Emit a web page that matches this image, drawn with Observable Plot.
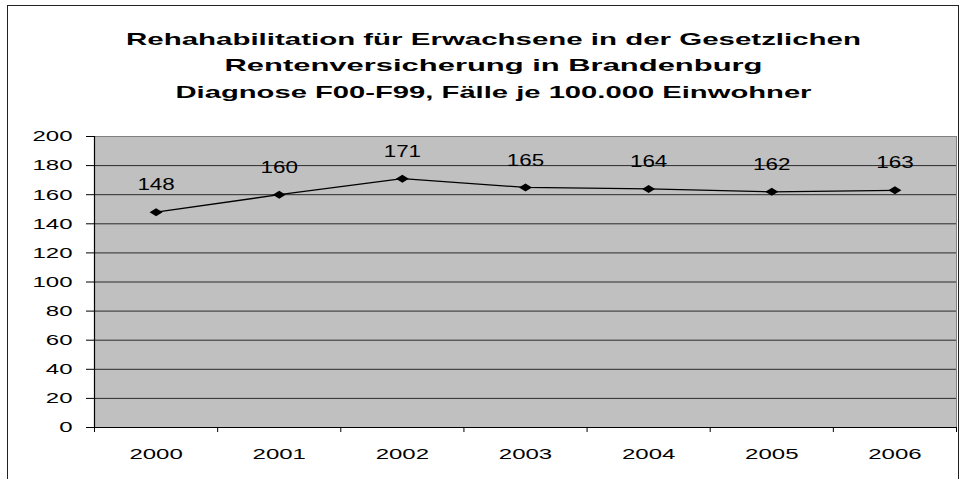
<!DOCTYPE html>
<html>
<head>
<meta charset="utf-8">
<script src="https://cdn.jsdelivr.net/npm/d3@7"></script>
<script src="https://cdn.jsdelivr.net/npm/@observablehq/plot@0.6"></script>
<style>
  html, body { margin: 0; padding: 0; background: #fff; }
  #wrap { position: relative; width: 964px; height: 479px; overflow: hidden; }
  #border { position: absolute; left: 7px; top: 5px; width: 952px; height: 520px;
            border: 1.5px solid #222; box-sizing: border-box; z-index: 0; }
  #chart { position: absolute; left: 0; top: 0; z-index: 1; }
</style>
</head>
<body>
<div id="wrap"><div id="border"></div><div id="chart"></div></div>
<script>
// ---- data ----
const titleLines = [
  "Rehahabilitation für Erwachsene in der Gesetzlichen",
  "Rentenversicherung in Brandenburg",
  "Diagnose F00-F99, Fälle je 100.000 Einwohner"
];
const years  = [2000, 2001, 2002, 2003, 2004, 2005, 2006];
const values = [148, 160, 171, 165, 164, 162, 163];
const yTicks = [0, 20, 40, 60, 80, 100, 120, 140, 160, 180, 200];

const data = years.map((year, i) => ({year, value: values[i]}));
const bounds = years.map(y => y - 0.5).concat([years[years.length - 1] + 0.5]);

const diamond = {
  draw(ctx) {
    ctx.moveTo(-6.5, 0); ctx.lineTo(0, -4); ctx.lineTo(6.5, 0); ctx.lineTo(0, 4); ctx.closePath();
  }
};

const titleCenters = [32, 58.5, 85];
const titleWidths = [735, 538, 636];

const svg = Plot.plot({
  width: 964,
  height: 479,
  marginLeft: 94,
  marginRight: 8,
  marginTop: 136,
  marginBottom: 52,
  style: {background: "transparent", fontFamily: "'Liberation Sans', Arial, sans-serif", fontSize: "15px", color: "#000"},
  x: {type: "linear", domain: [bounds[0], bounds[bounds.length - 1]], label: null},
  y: {domain: [0, 200], label: null},
  marks: [
    Plot.frame({fill: "#c0c0c0", stroke: "#808080"}),
    Plot.ruleY(yTicks.filter(v => v > 0 && v < 200), {stroke: "#2b2b2b", strokeWidth: 1}),
    Plot.ruleY([0], {stroke: "#000", strokeWidth: 1.2}),
    Plot.ruleX([bounds[0]], {stroke: "#000", strokeWidth: 1.2}),
    Plot.axisY({ticks: yTicks, tickSize: 8, tickPadding: 14, tickFormat: d => String(d), stroke: "#000", fill: "#000", label: null}),
    Plot.axisX({ticks: bounds, tickSize: 5, tickFormat: () => "", stroke: "#000", label: null}),
    Plot.axisX({ticks: years, tickSize: 0, tickPadding: 21, tickFormat: d => String(d), fill: "#000", label: null}),
    Plot.line(data, {x: "year", y: "value", stroke: "#000", strokeWidth: 1.3}),
    Plot.dot(data, {x: "year", y: "value", symbol: diamond, fill: "#000", stroke: "none"}),
    Plot.text(data, {x: "year", y: "value", text: d => String(d.value), dy: -27, fontSize: 16, fill: "#000"}),
    ...titleLines.map((t, i) => Plot.text([t], {
      frameAnchor: "top", text: d => d, dx: -32, dy: titleCenters[i] - 136,
      fontSize: 17, fontWeight: "bold", fill: "#000"
    }))
  ]
});

document.getElementById("chart").appendChild(svg);

// stretch text horizontally to match the reference's wide lettering
d3.select(svg).selectAll("text").each(function () {
  const el = this;
  const txt = el.textContent;
  if (!txt) return;
  const len = el.getComputedTextLength();
  let target = null;
  const ti = titleLines.indexOf(txt);
  if (ti >= 0) target = titleWidths[ti];
  else {
    const label = el.parentNode.getAttribute("aria-label") || "";
    if (label.includes("y-axis")) target = len * 1.6;
    else if (label.includes("x-axis")) target = len * 1.6;
    else target = len * 1.4;
  }
  el.setAttribute("textLength", target);
  el.setAttribute("lengthAdjust", "spacingAndGlyphs");
});
</script>
</body>
</html>
